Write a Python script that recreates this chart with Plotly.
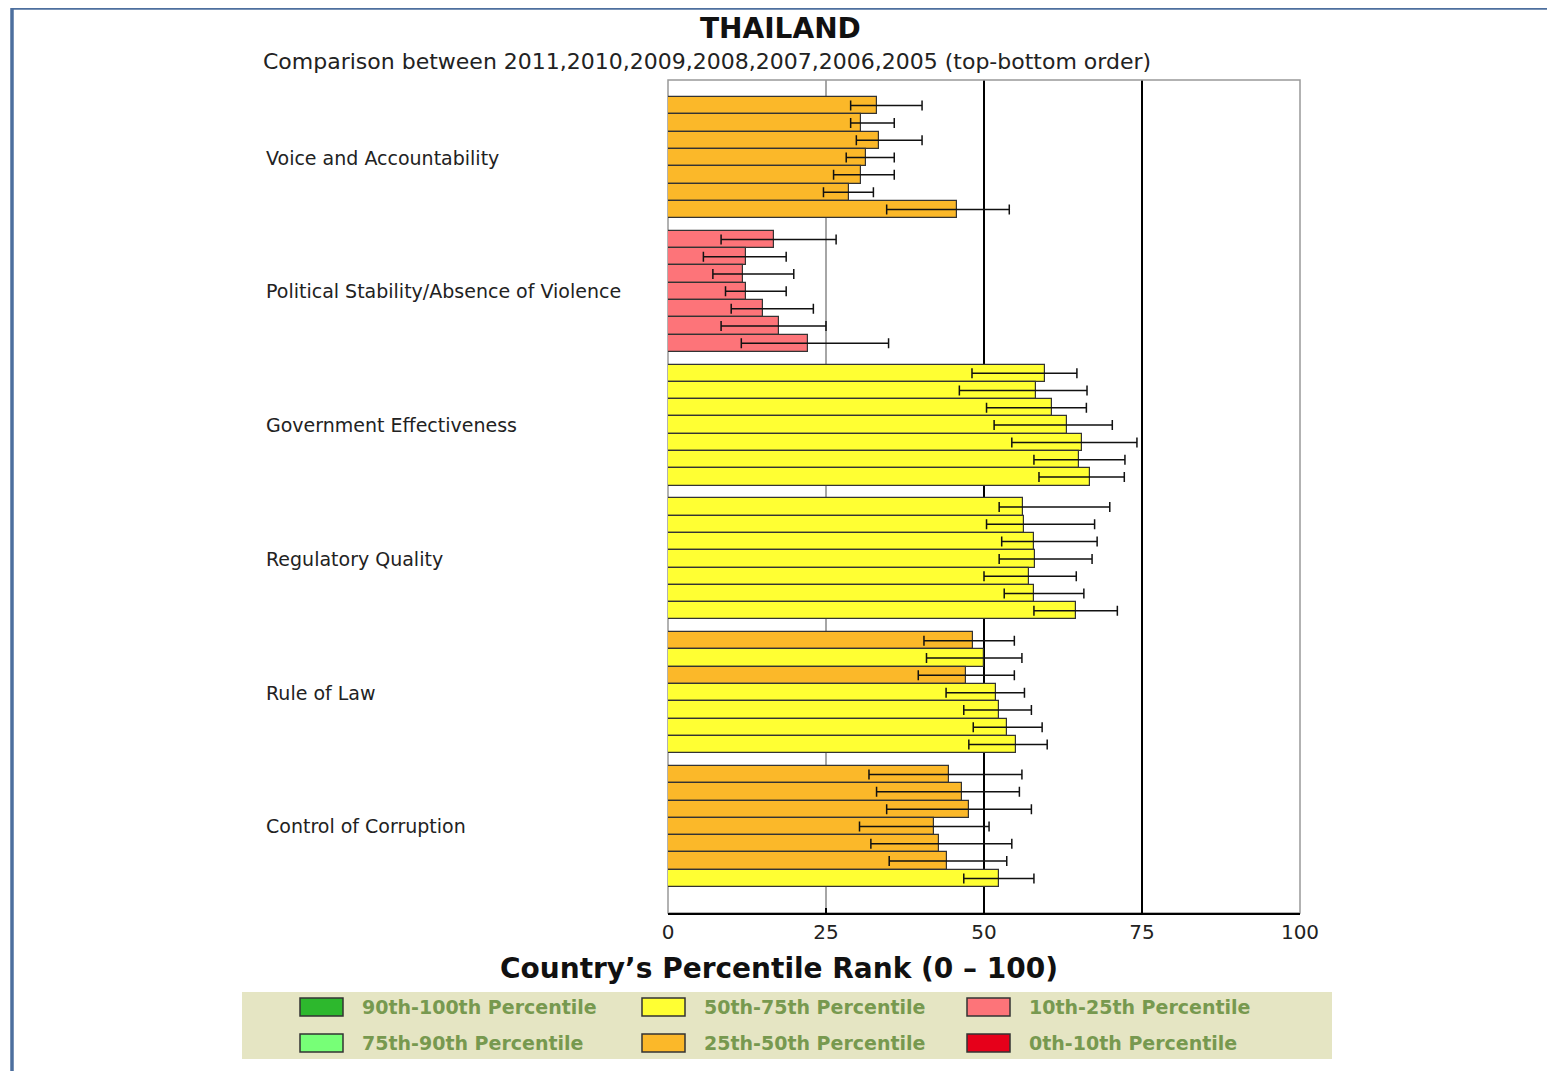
import plotly.graph_objects as go

# ---------------- data ----------------
years = [2011, 2010, 2009, 2008, 2007, 2006, 2005]
indicators = ["Voice and Accountability",
              "Political Stability/Absence of Violence",
              "Government Effectiveness",
              "Regulatory Quality",
              "Rule of Law",
              "Control of Corruption"]

va = [33.0, 30.5, 33.4, 31.4, 30.5, 28.6, 45.7]
va_lo = [28.9, 28.9, 29.8, 28.2, 26.2, 24.6, 34.6]
va_hi = [40.2, 35.8, 40.2, 35.8, 35.8, 32.5, 54.0]

ps = [16.7, 12.4, 11.9, 12.4, 15.1, 17.5, 22.1]
ps_lo = [8.4, 5.6, 7.1, 9.1, 10.0, 8.4, 11.6]
ps_hi = [26.6, 18.7, 19.9, 18.7, 23.0, 25.0, 34.9]

ge = [59.6, 58.3, 60.7, 63.1, 65.5, 65.1, 66.7]
ge_lo = [48.1, 46.1, 50.4, 51.6, 54.4, 57.9, 58.7]
ge_hi = [64.7, 66.3, 66.2, 70.3, 74.2, 72.3, 72.2]

rq = [56.2, 56.4, 57.9, 58.1, 57.1, 57.9, 64.6]
rq_lo = [52.4, 50.4, 52.8, 52.4, 50.0, 53.2, 57.9]
rq_hi = [69.9, 67.5, 67.9, 67.1, 64.6, 65.8, 71.1]

rl = [48.3, 50.0, 47.2, 51.9, 52.4, 53.6, 55.1]
rl_lo = [40.5, 40.9, 39.6, 44.0, 46.8, 48.3, 47.6]
rl_hi = [54.8, 56.0, 54.8, 56.4, 57.5, 59.2, 60.0]

cc = [44.4, 46.5, 47.7, 42.1, 42.9, 44.1, 52.4]
cc_lo = [31.8, 33.0, 34.6, 30.3, 32.1, 35.0, 46.8]
cc_hi = [56.0, 55.6, 57.5, 50.8, 54.4, 53.6, 57.9]

x_ticks = [0, 25, 50, 75, 100]

band_labels = ["90th-100th Percentile", "75th-90th Percentile",
               "50th-75th Percentile", "25th-50th Percentile",
               "10th-25th Percentile", "0th-10th Percentile"]
band_colors = ["#2db82d", "#77ff77", "#ffff33", "#fbb829", "#fd7479", "#e6001a"]
band_lower = [90, 75, 50, 25, 10, 0]

series = [(va, va_lo, va_hi), (ps, ps_lo, ps_hi), (ge, ge_lo, ge_hi),
          (rq, rq_lo, rq_hi), (rl, rl_lo, rl_hi), (cc, cc_lo, cc_hi)]

# ---------------- layout helpers ----------------
W, H = 1555, 1071          # target picture size
OFF = 8                    # page offset of the figure in the browser
L, R, T, B = 668, 1300, 80, 913


def px(xp):
    return (xp - L) / (R - L)


def py(yp):
    return (B - yp) / (B - T)


def color_for(v):
    for lo, c in zip(band_lower, band_colors):
        if v >= lo:
            return c
    return band_colors[-1]


PITCH = 7.73  # bar slots per group incl. gap
fig = go.Figure()
annotations = []
for g, (name, (vals, lo, hi)) in enumerate(zip(indicators, series)):
    ys = [g * PITCH + j + 0.5 for j in range(len(years))]
    fig.add_trace(go.Bar(
        x=vals, y=ys, orientation="h", width=1.0,
        marker=dict(color=[color_for(v) for v in vals],
                    line=dict(color="#333333", width=1.2)),
        error_x=dict(type="data", symmetric=False,
                     array=[h - v for h, v in zip(hi, vals)],
                     arrayminus=[v - l for l, v in zip(lo, vals)],
                     color="#111111", thickness=1.5, width=5),
        name=name, showlegend=False,
        customdata=years,
        hovertemplate="%{customdata}: %{x}<extra>" + name + "</extra>",
    ))
    annotations.append(dict(
        x=px(264), xref="paper", y=g * PITCH + 3.5, yref="y",
        text=name, showarrow=False, xanchor="left", yanchor="middle",
        font=dict(family="DejaVu Sans", size=19, color="#222222")))

y_top = -0.98
y_bot = 5 * PITCH + 7 + 1.5

shapes = []
# reference lines
for xv, col, w in [(25, "#888888", 1.5), (50, "#000000", 2), (75, "#000000", 2)]:
    shapes.append(dict(type="line", xref="x", yref="paper", x0=xv, x1=xv,
                       y0=0, y1=1, line=dict(color=col, width=w), layer="below"))
# plot frame
shapes.append(dict(type="rect", xref="paper", yref="paper", x0=0, x1=1, y0=0, y1=1,
                   line=dict(color="#999999", width=1.5), layer="below"))
# outer page frame
shapes.append(dict(type="line", xref="paper", yref="paper", x0=px(12), x1=px(1560),
                   y0=py(8), y1=py(8), line=dict(color="#4d6f9e", width=3.5)))
shapes.append(dict(type="line", xref="paper", yref="paper", x0=px(12), x1=px(12),
                   y0=py(8), y1=py(1075), line=dict(color="#4d6f9e", width=3.5)))
# legend box
shapes.append(dict(type="rect", xref="paper", yref="paper", x0=px(242), x1=px(1332),
                   y0=py(992), y1=py(1059), fillcolor="#e5e5c3",
                   line=dict(width=0), layer="below"))

leg_cols = [300, 642, 967]
leg_rows = [1007, 1043]
order = [(0, 0), (0, 1), (1, 0), (1, 1), (2, 0), (2, 1)]  # (col,row) per band
for (c, r), lab, colr in zip(order, band_labels, band_colors):
    x0 = leg_cols[c]
    yc = leg_rows[r]
    shapes.append(dict(type="rect", xref="paper", yref="paper",
                       x0=px(x0), x1=px(x0 + 43), y0=py(yc - 9), y1=py(yc + 9),
                       fillcolor=colr, line=dict(color="#333333", width=1.5)))
    annotations.append(dict(
        x=px(x0 + 60), xref="paper", y=py(yc), yref="paper", text=lab,
        showarrow=False, xanchor="left", yanchor="middle",
        font=dict(family="DejaVu Sans", size=19, color="#77994f", weight="bold")))

# titles
annotations.append(dict(x=px(780), xref="paper", y=py(29), yref="paper",
                        text="<b>THAILAND</b>", showarrow=False,
                        xanchor="center", yanchor="middle",
                        font=dict(family="DejaVu Sans", size=28, color="#111111")))
annotations.append(dict(x=px(261), xref="paper", y=py(62), yref="paper",
                        text="Comparison between " + ",".join(str(y) for y in years)
                        + " (top-bottom order)",
                        showarrow=False, xanchor="left", yanchor="middle",
                        font=dict(family="DejaVu Sans", size=22, color="#222222")))
annotations.append(dict(x=px(779), xref="paper", y=py(968), yref="paper",
                        text="<b>Country\u2019s Percentile Rank (0 \u2013 100)</b>",
                        showarrow=False, xanchor="center", yanchor="middle",
                        font=dict(family="DejaVu Sans", size=28, color="#111111")))

fig.update_layout(
    width=W - OFF, height=H - OFF,
    margin=dict(l=L - OFF, r=W - R, t=T - OFF, b=H - B, pad=0),
    paper_bgcolor="white", plot_bgcolor="white",
    bargap=0,
    xaxis=dict(range=[0, 100], tickvals=x_ticks, showgrid=False, zeroline=False,
               showline=True, linecolor="#000000", linewidth=2,
               ticks="inside", ticklen=5, tickcolor="#000000", tickwidth=1.5,
               tickfont=dict(family="DejaVu Sans", size=20, color="#222222"),
               fixedrange=True),
    yaxis=dict(range=[y_bot, y_top], showticklabels=False, showgrid=False,
               zeroline=False, showline=False, ticks="", fixedrange=True),
    shapes=shapes,
    annotations=annotations,
    showlegend=False,
)

fig.write_html("out.html")
